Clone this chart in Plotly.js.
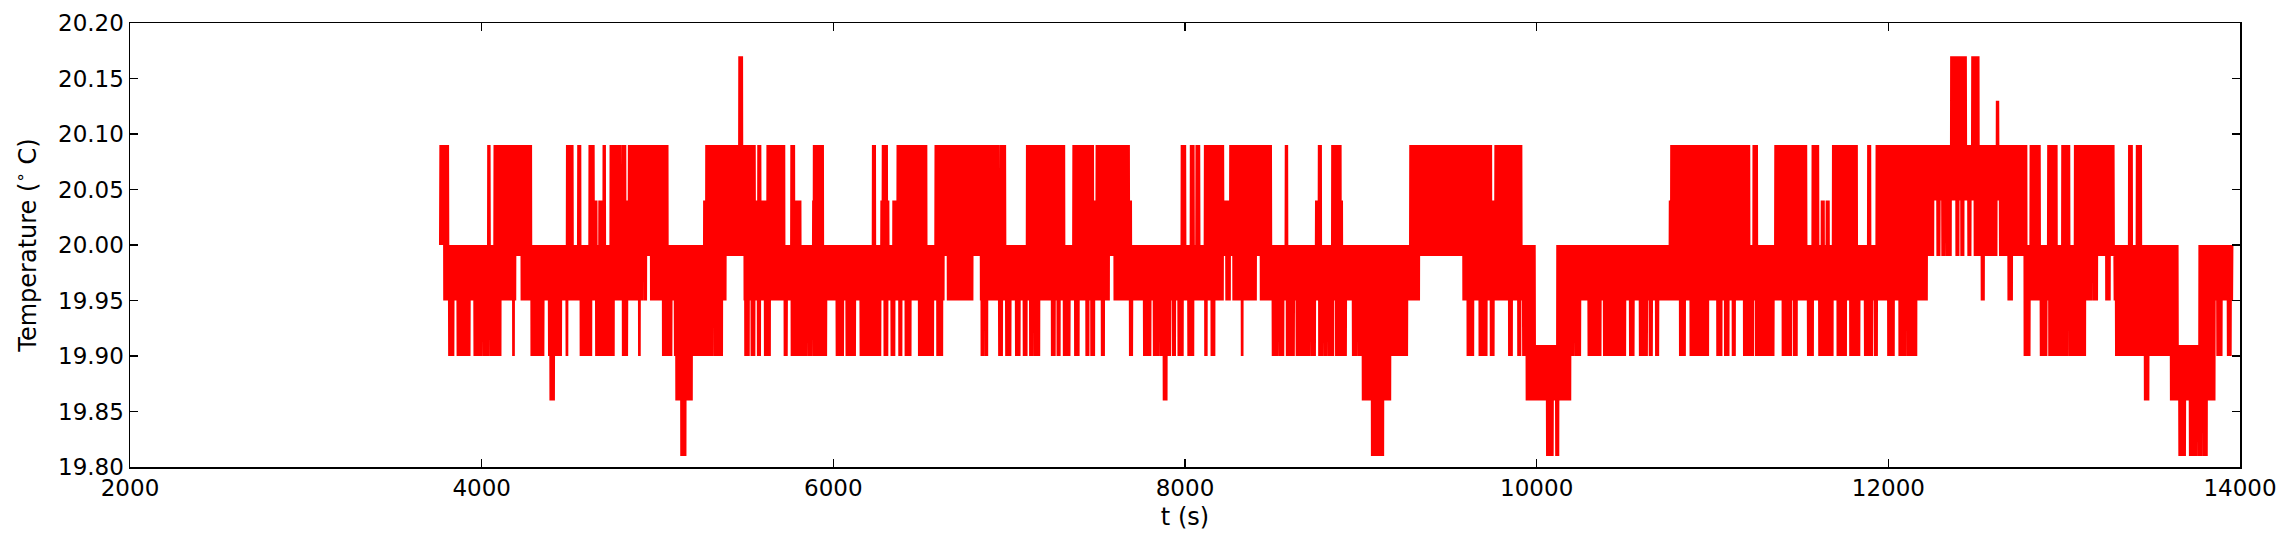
<!DOCTYPE html>
<html>
<head>
<meta charset="utf-8">
<script src="https://cdn.plot.ly/plotly-3.0.1.min.js"></script>
<style>
  html, body { margin: 0; padding: 0; background: #fff; }
  #chart { width: 2292px; height: 541px; }
</style>
</head>
<body>
<div id="chart"></div>
<script>
// Temperature log.
// The signal jumps between a few sensor levels; the "band" tables give the range
// it keeps flickering between from each start time, the excursion tables give
// short dips / peaks (start, end in s) to a single level.
const bandStart = [
  3763, 3786, 3810, 4070, 4195, 4227, 4284, 4483, 4521, 4834, 4919, 4961, 5058, 5265, 5276,
  5390, 5492, 5555, 5625, 5725, 6341, 6364, 6515, 6578, 6629, 6650, 6792, 6838, 6938, 7099,
  7317, 7365, 7478, 7494, 7570, 7596, 7683, 7697, 8110, 8218, 8234, 8256, 8275, 8404, 8431,
  8493, 9280, 9333, 9583, 9745, 9764, 9915, 9940, 9992, 10114, 10193, 10755, 10762, 11210,
  11356, 11536, 11682, 11824, 11930, 12221, 12354, 12445, 12474, 12515, 12739, 12786, 13058,
  13128, 13285, 13606, 13649, 13768, 13858
];
const bandLo = [
  20.00, 19.95, 19.95, 19.95, 19.99, 19.95, 19.95, 19.95, 19.95, 19.95, 19.99, 19.95, 19.95, 19.95, 19.95,
  19.99, 19.95, 19.95, 19.95, 19.95, 19.95, 19.95, 19.95, 19.95, 19.99, 19.95, 19.99, 19.95, 19.95, 19.95,
  19.95, 19.95, 19.95, 19.95, 19.99, 19.95, 19.95, 19.95, 19.95, 19.99, 19.95, 19.99, 19.95, 19.99, 19.95,
  19.95, 19.95, 19.99, 19.95, 19.95, 19.95, 19.95, 19.86, 19.86, 19.86, 19.95, 19.95, 19.95, 19.95,
  19.95, 19.95, 19.95, 19.95, 19.95, 20.04, 20.04, 20.04, 20.04, 20.04, 19.99, 19.95, 19.95,
  19.99, 19.95, 19.86, 19.86, 19.86, 19.95
];
const bandHi = [
  20.09, 20.09, 20.00, 20.09, 20.09, 20.09, 20.00, 20.09, 20.00, 20.09, 20.09, 20.09, 20.00, 20.04, 20.09,
  20.09, 20.09, 20.04, 20.09, 20.00, 20.04, 20.09, 20.00, 20.09, 20.09, 20.09, 20.09, 20.09, 20.00, 20.09,
  20.00, 20.09, 20.04, 20.09, 20.09, 20.09, 20.04, 20.00, 20.09, 20.04, 20.04, 20.09, 20.09, 20.09, 20.09,
  20.00, 20.09, 20.09, 20.09, 20.04, 20.09, 20.00, 20.00, 19.91, 20.00, 20.00, 20.04, 20.09, 20.00,
  20.09, 20.00, 20.09, 20.00, 20.09, 20.09, 20.17, 20.09, 20.17, 20.09, 20.09, 20.00, 20.09,
  20.09, 20.00, 20.00, 19.91, 20.00, 20.00
];
const dataEnd = 13958;

const dipsTo1990 = [
  [3816,3839],[3863,3886],[3896,3930],[3958,4000],[4013,4038],[4053,4066],[4076,4085],[4095,4106],
  [4180,4182],[4284,4303],[4309,4332],[4341,4351],[4383,4426],[4436,4451],[4483,4485],[4565,4588],
  [4597,4622],[4650,4673],[4682,4701],[4707,4749],[4802,4828],[4897,4899],[5033,5067],[5077,5079],
  [5101,5204],[5213,5238],[5245,5265],[5270,5289],[5295,5314],[5327,5329],[5340,5365],[5501,5517],
  [5536,5549],[5573,5583],[5611,5640],[5725,5735],[5763,5811],
  [5810,5825],[5833,5848],[5859,5874],[5886,5901],[5909,5920],[5928,5958],[6019,6053],[6075,6094],
  [6104,6123],[6157,6180],[6185,6242],[6250,6265],[6290,6307],[6331,6345],[6375,6388],[6413,6439],
  [6487,6515],[6521,6565],[6591,6606],[6616,6618],[6843,6853],[6866,6875],[6944,6957],[6985,7008],
  [7039,7058],[7084,7099],[7118,7133],[7147,7171],[7245,7260],[7274,7285],[7312,7342],[7374,7393],
  [7440,7450],[7469,7482],[7526,7539],[7687,7697],[7767,7801],[7824,7848],[7858,7873],[7881,7914],
  [7930,7943],[7962,7987],[8019,8048],[8114,8124],[8152,8165],[8323,8325],[8499,8525],[8541,8560],
  [8579,8601],[8611,8620],[8635,8645],[8654,8664],[8673,8707],[8721,8740],[8764,8783],[8797,8806],
  [8821,8844],[8859,8882],[8886,8914],[8954,8973],[8986,9011],[9166,9181],[9189,9195],[9200,9261],
  [9608,9621],[9631,9640],[9674,9716],[9739,9754],[9845,9858],[9896,9906],[9925,9940],
  [10199,10209],[10224,10247],[10294,10364],[10383,10398],[10408,10421],[10432,10502],[10531,10550],
  [10588,10626],[10645,10654],[10679,10692],[10815,10844],[10876,10976],[11028,11052],[11071,11090],
  [11115,11128],[11179,11232],[11248,11285],[11293,11346],[11399,11418],[11426,11445],[11464,11479],
  [11545,11570],[11608,11684],[11712,11760],[11782,11835],[11868,11905],[11924,11934],[12000,12029],
  [12063,12094],[12108,12123],[12132,12157],[12777,12802],[12868,12900],[12915,12942],[12948,13018],
  [13033,13071],[13080,13118],[13295,13308],[13317,13393],[13403,13469],[13488,13598],[13871,13882],
  [13886,13895],[13933,13947]
];
const dipsTo1986 = [[4392,4411],[5109,5195],[7881,7896],[9011,9166],[13460,13479]];
const dipsTo1981 = [
  [5134,5160],[9062,9100],[9109,9128],[10061,10072],[10080,10091],[10110,10123],
  [13655,13687],[13716,13729],[13738,13753],[13767,13782],[13795,13810]
];
const dipsTo1991 = [[10193,10209]];
const dipsTo1995 = [[4929,4936],[12530,12544],[12682,12701],[13128,13156],[13166,13188],[13241,13260]];
const dipsTo1999 = [
  [12221,12256],[12278,12290],[12309,12320],[12331,12354],[12388,12398],[12417,12426],[12455,12468],
  [12493,12521],[12555,12597],[12606,12616],[12635,12663],[12669,12682],[12711,12739]
];
const peaksTo2004 = [
  [4644,4654],[4669,4682],[4787,4825],[5791,5811],[5886,5888],[6274,6312],[6958,6966],[8744,8753],
  [8838,8892],[11621,11631],[11650,11659]
];
const peaksTo2009 = [
  [4038,4044],[4550,4559],[4612,4635],[4692,4701],[4735,4745],[4749,4768],[4772,4787],[4802,4815],
  [5573,5583],[5763,5776],[5888,5939],[6227,6237],[6280,6303],[6521,6530],[6948,6957],[6967,6976],
  [7981,8000],[8033,8048],[8067,8082],[8575,8582],[8762,8772],[8838,8886],[11232,11251],[11570,11602],
  [11887,11896],[12809,12862],[12910,12957],[12989,13029],[13370,13383],[13412,13435]
];
const peaksTo2013 = [[12616,12625]];
const peaksTo2017 = [[5465,5479]];

const excursions = [
  [19.90, dipsTo1990], [19.86, dipsTo1986], [19.81, dipsTo1981], [19.91, dipsTo1991],
  [19.95, dipsTo1995], [19.99, dipsTo1999], [20.04, peaksTo2004], [20.09, peaksTo2009],
  [20.13, peaksTo2013], [20.17, peaksTo2017]
];

function buildSeries() {
  const dt = 2;
  const xs = [], ys = [];
  let seg = 0, k = 0;
  for (let t = bandStart[0]; t <= dataEnd; t += dt) {
    while (seg + 1 < bandStart.length && t >= bandStart[seg + 1]) seg++;
    let lo = bandLo[seg], hi = bandHi[seg];
    excursions.forEach(([level, spans]) => {
      for (const [t0, t1] of spans) {
        if (t >= t0 - dt && t <= t1 + dt) {
          if (level < lo) lo = level;
          if (level > hi) hi = level;
        }
      }
    });
    xs.push(t);
    ys.push(k % 2 ? hi : lo);
    k++;
  }
  return { x: xs, y: ys };
}

const series = buildSeries();
const trace = {
  x: series.x,
  y: series.y,
  type: 'scatter',
  mode: 'lines',
  line: { color: '#ff0000', width: 2, simplify: false },
  hoverinfo: 'skip'
};

const axisStyle = {
  showline: true,
  linecolor: '#000',
  linewidth: 1.5,
  mirror: 'ticks',
  ticks: 'inside',
  ticklen: 8,
  tickwidth: 1.2,
  tickcolor: '#000',
  showgrid: false,
  zeroline: false
};

const layout = {
  width: 2292,
  height: 541,
  margin: { l: 130, r: 52, t: 23, b: 74 },
  paper_bgcolor: '#fff',
  plot_bgcolor: '#fff',
  showlegend: false,
  font: { family: 'DejaVu Sans', size: 23, color: '#000' },
  xaxis: Object.assign({}, axisStyle, {
    range: [2000, 14000],
    tick0: 2000,
    dtick: 2000,
    tickformat: 'd',
    title: { text: 't (s)', standoff: 8, font: { size: 24 } }
  }),
  yaxis: Object.assign({}, axisStyle, {
    range: [19.80, 20.20],
    tick0: 19.80,
    dtick: 0.05,
    tickformat: '.2f',
    title: { text: 'Temperature (<sup>∘</sup> C)', standoff: 14, font: { size: 24 } }
  })
};

Plotly.newPlot('chart', [trace], layout, { staticPlot: true });
</script>
</body>
</html>
